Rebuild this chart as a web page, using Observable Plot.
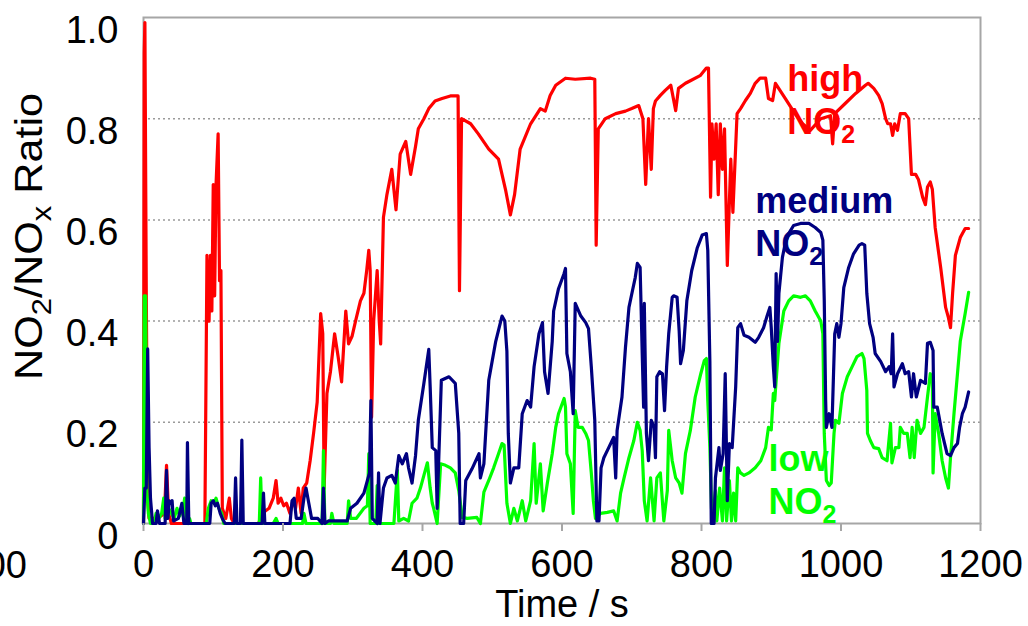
<!DOCTYPE html>
<html>
<head>
<meta charset="utf-8">
<script src="https://cdn.jsdelivr.net/npm/d3@7"></script>
<script src="https://cdn.jsdelivr.net/npm/@observablehq/plot@0.6"></script>
<style>
  html, body { margin: 0; padding: 0; background: white; }
  #chart svg { display: block; }
</style>
</head>
<body>
<div id="chart"></div>
<script>
// ---- data: [time (s), NO2/NOx ratio] ----
const highNO2 = [[0,0.0],[1,0.93],[2,0.99],[4,0.45],[6,0.05],[8,0.01],[20,0.01],[30,0.02],[33,0.115],[36,0.02],[40,0.0],[88,0.0],[91,0.53],[94,0.4],[96,0.53],[98,0.42],[100,0.67],[102,0.45],[104,0.67],[107,0.77],[109,0.48],[111,0.5],[113,0.03],[118,0.01],[123,0.05],[126,0.01],[130,0.0],[165,0.0],[170,0.02],[180,0.03],[186,0.05],[190,0.085],[193,0.04],[197,0.05],[201,0.035],[205,0.04],[210,0.02],[214,0.045],[218,0.03],[222,0.07],[226,0.02],[229,0.07],[234,0.08],[239,0.125],[244,0.18],[249,0.24],[254,0.415],[257,0.375],[259,0.07],[263,0.257],[268,0.30],[274,0.375],[279,0.33],[284,0.28],[290,0.42],[294,0.355],[299,0.37],[304,0.40],[311,0.44],[316,0.455],[320,0.5],[323,0.54],[325,0.50],[327,0.21],[330,0.40],[335,0.50],[338,0.40],[340,0.355],[344,0.605],[349,0.65],[356,0.70],[362,0.62],[368,0.73],[376,0.755],[383,0.69],[390,0.745],[394,0.78],[402,0.80],[409,0.82],[418,0.835],[428,0.84],[440,0.845],[451,0.845],[453,0.46],[456,0.80],[469,0.79],[480,0.77],[495,0.74],[509,0.72],[519,0.66],[526,0.61],[532,0.65],[540,0.74],[555,0.79],[569,0.82],[576,0.815],[583,0.846],[591,0.866],[605,0.88],[619,0.878],[641,0.88],[647,0.878],[649,0.55],[652,0.78],[662,0.80],[677,0.81],[691,0.815],[700,0.82],[710,0.826],[716,0.80],[720,0.67],[724,0.80],[728,0.70],[731,0.82],[734,0.835],[741,0.846],[748,0.856],[756,0.866],[763,0.816],[767,0.86],[777,0.87],[784,0.875],[798,0.885],[807,0.9],[810,0.9],[813,0.645],[815,0.79],[818,0.72],[821,0.79],[824,0.65],[827,0.79],[830,0.70],[833,0.78],[837,0.51],[842,0.72],[845,0.615],[851,0.81],[856,0.82],[863,0.836],[870,0.85],[877,0.87],[884,0.88],[892,0.88],[896,0.84],[902,0.836],[906,0.87],[913,0.855],[920,0.84],[934,0.81],[945,0.79],[956,0.777],[971,0.80],[985,0.806],[988,0.75],[991,0.81],[1006,0.83],[1021,0.85],[1035,0.866],[1039,0.87],[1047,0.86],[1054,0.846],[1059,0.83],[1064,0.80],[1067,0.79],[1071,0.79],[1074,0.767],[1077,0.79],[1081,0.777],[1085,0.81],[1092,0.81],[1097,0.80],[1101,0.69],[1107,0.69],[1111,0.68],[1117,0.645],[1121,0.63],[1124,0.665],[1128,0.675],[1131,0.66],[1135,0.585],[1143,0.505],[1150,0.427],[1154,0.407],[1157,0.387],[1160,0.455],[1164,0.53],[1167,0.545],[1171,0.565],[1178,0.583],[1183,0.583]];

const mediumNO2 = [[0,0.0],[2,0.07],[4,0.07],[6,0.345],[8,0.15],[10,0.05],[13,0.0],[18,0.0],[20,0.025],[23,0.0],[31,0.0],[33,0.105],[35,0.01],[37,0.045],[39,0.04],[41,0.045],[43,0.005],[50,0.01],[55,0.04],[58,0.0],[62,0.0],[63,0.16],[65,0.0],[95,0.0],[97,0.04],[100,0.045],[103,0.035],[106,0.04],[110,0.02],[113,0.01],[117,0.0],[130,0.0],[132,0.09],[134,0.0],[139,0.0],[141,0.165],[143,0.0],[170,0.0],[172,0.06],[174,0.0],[210,0.0],[213,0.045],[216,0.05],[219,0.01],[226,0.01],[230,0.05],[233,0.07],[237,0.04],[241,0.01],[250,0.01],[256,0.0],[258,0.07],[260,0.0],[265,0.005],[285,0.005],[292,0.005],[297,0.03],[306,0.04],[316,0.06],[321,0.085],[324,0.1],[326,0.243],[328,0.01],[335,0.0],[337,0.1],[339,0.0],[344,0.07],[349,0.09],[356,0.095],[361,0.08],[366,0.134],[371,0.118],[377,0.138],[380,0.11],[385,0.08],[390,0.134],[394,0.204],[402,0.277],[409,0.344],[411,0.27],[414,0.15],[419,0.144],[421,0.03],[427,0.283],[438,0.29],[447,0.277],[452,0.178],[454,0.0],[459,0.0],[462,0.085],[471,0.108],[481,0.138],[483,0.09],[488,0.118],[495,0.283],[505,0.36],[514,0.41],[518,0.40],[521,0.34],[523,0.178],[526,0.08],[531,0.11],[538,0.11],[543,0.217],[550,0.243],[555,0.23],[560,0.31],[567,0.375],[572,0.397],[575,0.30],[580,0.257],[586,0.36],[588,0.42],[595,0.464],[603,0.494],[605,0.504],[607,0.336],[612,0.30],[616,0.217],[619,0.435],[627,0.41],[634,0.397],[638,0.385],[642,0.31],[647,0.204],[650,0.005],[653,0.005],[656,0.11],[660,0.13],[667,0.15],[674,0.17],[677,0.09],[679,0.184],[686,0.25],[691,0.348],[696,0.427],[701,0.46],[705,0.486],[708,0.514],[712,0.506],[715,0.336],[717,0.23],[718,0.435],[721,0.178],[724,0.124],[728,0.204],[732,0.19],[734,0.13],[736,0.29],[740,0.30],[744,0.296],[747,0.223],[750,0.31],[753,0.375],[758,0.447],[760,0.45],[765,0.447],[768,0.38],[770,0.316],[774,0.342],[779,0.44],[786,0.5],[794,0.545],[801,0.57],[807,0.573],[809,0.54],[812,0.32],[814,0.0],[818,0.0],[820,0.09],[825,0.15],[827,0.105],[831,0.138],[834,0.296],[837,0.045],[840,0.158],[844,0.15],[849,0.27],[852,0.387],[856,0.395],[861,0.372],[868,0.368],[877,0.358],[882,0.368],[889,0.387],[894,0.41],[898,0.427],[900,0.387],[903,0.31],[905,0.27],[907,0.494],[909,0.36],[911,0.455],[916,0.526],[920,0.553],[925,0.573],[932,0.589],[942,0.593],[954,0.593],[963,0.585],[971,0.575],[974,0.56],[976,0.44],[978,0.243],[979,0.19],[983,0.217],[987,0.19],[991,0.375],[994,0.395],[997,0.368],[1000,0.395],[1004,0.466],[1011,0.506],[1018,0.533],[1026,0.55],[1030,0.553],[1034,0.55],[1037,0.455],[1041,0.395],[1046,0.368],[1049,0.336],[1057,0.32],[1064,0.30],[1069,0.31],[1072,0.296],[1074,0.375],[1076,0.27],[1081,0.296],[1088,0.316],[1092,0.296],[1097,0.30],[1101,0.25],[1104,0.296],[1108,0.25],[1114,0.283],[1121,0.277],[1124,0.356],[1128,0.358],[1132,0.342],[1133,0.23],[1138,0.23],[1145,0.178],[1152,0.138],[1157,0.134],[1162,0.15],[1167,0.158],[1170,0.19],[1174,0.217],[1178,0.23],[1183,0.26]];

const lowNO2 = [[0,0.0],[1,0.45],[3,0.45],[4,0.26],[5,0.06],[7,0.02],[10,0.0],[15,0.0],[18,0.02],[22,0.01],[26,0.02],[29,0.05],[31,0.01],[36,0.03],[40,0.02],[44,0.01],[48,0.03],[52,0.015],[55,0.025],[57,0.03],[59,0.05],[61,0.01],[64,0.0],[66,0.01],[68,0.0],[90,0.0],[93,0.03],[97,0.045],[101,0.04],[104,0.05],[108,0.03],[112,0.02],[115,0.0],[166,0.0],[168,0.09],[170,0.0],[186,0.0],[190,0.01],[193,0.0],[228,0.0],[230,0.02],[233,0.0],[256,0.0],[258,0.144],[260,0.0],[268,0.0],[270,0.02],[273,0.0],[292,0.0],[294,0.045],[297,0.01],[305,0.01],[316,0.03],[321,0.035],[323,0.138],[325,0.0],[333,0.0],[335,0.075],[337,0.0],[359,0.0],[364,0.105],[366,0.005],[373,0.01],[380,0.005],[385,0.04],[392,0.05],[397,0.07],[402,0.095],[407,0.12],[411,0.07],[414,0.04],[416,0.03],[421,0.0],[426,0.118],[433,0.115],[440,0.11],[447,0.1],[452,0.065],[457,0.012],[464,0.01],[478,0.012],[483,0.0],[488,0.062],[495,0.085],[502,0.11],[509,0.138],[514,0.158],[517,0.155],[521,0.04],[526,0.0],[531,0.03],[536,0.005],[543,0.045],[548,0.005],[555,0.045],[560,0.158],[563,0.04],[569,0.118],[573,0.025],[579,0.08],[586,0.138],[591,0.19],[595,0.217],[603,0.247],[605,0.23],[607,0.138],[612,0.118],[616,0.02],[619,0.223],[623,0.19],[629,0.19],[634,0.178],[638,0.164],[642,0.1],[645,0.045],[648,0.01],[655,0.02],[665,0.022],[674,0.025],[679,0.005],[684,0.06],[689,0.09],[696,0.13],[703,0.164],[708,0.2],[712,0.184],[715,0.144],[718,0.045],[722,0.005],[727,0.09],[732,0.005],[736,0.09],[741,0.1],[746,0.005],[751,0.065],[753,0.184],[758,0.124],[763,0.09],[768,0.08],[772,0.06],[777,0.138],[784,0.184],[791,0.25],[799,0.296],[804,0.322],[807,0.326],[809,0.243],[812,0.15],[815,0.0],[820,0.065],[822,0.005],[826,0.07],[830,0.005],[833,0.11],[836,0.005],[840,0.085],[843,0.005],[846,0.06],[849,0.005],[852,0.11],[856,0.1],[861,0.095],[868,0.1],[877,0.11],[885,0.124],[892,0.15],[896,0.19],[900,0.185],[903,0.257],[905,0.243],[906,0.263],[911,0.356],[918,0.42],[925,0.44],[932,0.45],[942,0.447],[949,0.45],[956,0.44],[963,0.42],[971,0.40],[974,0.375],[976,0.178],[979,0.085],[983,0.075],[986,0.08],[990,0.178],[992,0.204],[997,0.198],[1002,0.257],[1009,0.29],[1016,0.31],[1023,0.33],[1030,0.336],[1033,0.326],[1037,0.263],[1038,0.178],[1042,0.164],[1047,0.15],[1054,0.148],[1059,0.13],[1066,0.124],[1071,0.198],[1073,0.12],[1078,0.15],[1083,0.15],[1085,0.19],[1090,0.178],[1095,0.178],[1099,0.13],[1102,0.19],[1105,0.13],[1109,0.204],[1114,0.178],[1119,0.19],[1124,0.25],[1128,0.296],[1131,0.283],[1132,0.1],[1135,0.217],[1140,0.178],[1145,0.124],[1150,0.09],[1154,0.07],[1157,0.13],[1162,0.217],[1167,0.296],[1171,0.36],[1178,0.415],[1183,0.457]];

// ---- ticks, labels ----
const xTicks = [0, 200, 400, 600, 800, 1000, 1200];
const yTicks = [0, 0.2, 0.4, 0.6, 0.8, 1.0];
const gridValues = [0.2, 0.4, 0.6, 0.8];
const xTitle = "Time / s";
const yTitle = "NO2/NOx Ratio";
const strayTickLabel = "-200";

// series annotations (label, time, ratio at text top, colour)
const seriesLabels = ["high\nNO2", "medium\nNO2", "low\nNO2"];
const seriesLabelT = [923, 877, 896];
const seriesLabelV = [0.916, 0.675, 0.165];
const seriesColors = ["#ff0000", "#000080", "#00ff00"];

const annotations = seriesLabels.map((s, i) => ({s, t: seriesLabelT[i], v: seriesLabelV[i], c: seriesColors[i]}));

const gray = "#a6a6a6";
const fmtY = d => d === 0 ? "0" : d.toFixed(1);

const svg = Plot.plot({
  width: 1028,
  height: 626,
  marginLeft: 143,
  marginRight: 48,
  marginTop: 17,
  marginBottom: 103,
  style: {fontFamily: "'Liberation Sans', Arial, sans-serif", fontSize: "38px", background: "white", color: "black"},
  x: {domain: [0, 1200]},
  y: {domain: [0, 1]},
  marks: [
    Plot.gridY(gridValues, {stroke: "#9a9a9a", strokeOpacity: 1, strokeWidth: 1.5, strokeDasharray: "2,3"}),
    Plot.frame({stroke: gray, strokeWidth: 2}),
    Plot.text(annotations, {x: "t", y: "v", text: "s", fill: "c", textAnchor: "start", lineAnchor: "top", lineHeight: 1.2, fontSize: 36, fontWeight: "bold"}),
    Plot.line(highNO2, {x: d => d[0], y: d => d[1], stroke: seriesColors[0], strokeWidth: 3.2}),
    Plot.line(lowNO2, {x: d => d[0], y: d => d[1], stroke: seriesColors[2], strokeWidth: 3.2}),
    Plot.line(mediumNO2, {x: d => d[0], y: d => d[1], stroke: seriesColors[1], strokeWidth: 3.2}),
    Plot.axisX({ticks: xTicks, tickFormat: d => String(d), tickSize: 8, tickPadding: 19, stroke: gray, strokeWidth: 2, fill: "black", fontSize: 38, label: null}),
    Plot.axisY({ticks: yTicks, tickFormat: fmtY, tickSize: 0, tickPadding: 25, dy: 13, fill: "black", fontSize: 38, label: null}),
    Plot.text([strayTickLabel], {x: -200, frameAnchor: "bottom", text: d => d, textAnchor: "end", lineAnchor: "top", dx: 23, dy: 28, fontSize: 38, fill: "black"}),
    Plot.text([xTitle], {frameAnchor: "bottom", text: d => d, textAnchor: "middle", lineAnchor: "middle", dy: 81, fontSize: 38, fill: "black"}),
    Plot.text([yTitle], {frameAnchor: "left", text: d => d, rotate: -90, textAnchor: "middle", lineAnchor: "middle", dx: -114, dy: -34, fontSize: 39, fill: "black"})
  ]
});

// render NO2 / NOx with subscripts
function subscriptify(el, subSize, shift) {
  const s = el.textContent;
  const parts = s.split(/(?<=NO)([2x])/);
  while (el.firstChild) el.removeChild(el.firstChild);
  let down = false;
  parts.forEach((p, i) => {
    if (!p) return;
    const t = document.createElementNS("http://www.w3.org/2000/svg", "tspan");
    t.textContent = p;
    if (i % 2 === 1) { t.setAttribute("font-size", subSize); t.setAttribute("dy", shift); down = true; }
    else if (down) { t.setAttribute("dy", -shift); down = false; }
    el.appendChild(t);
  });
}
d3.select(svg).selectAll("text, tspan").each(function() {
  if (this.querySelector("tspan")) return;
  if (!/NO[2x]/.test(this.textContent)) return;
  const isTitle = this.textContent.indexOf("Ratio") >= 0;
  subscriptify(this, isTitle ? 28 : 25, 9);
  if (isTitle) {
    // the reference title is drawn somewhat longer than its glyph height suggests
    this.setAttribute("textLength", 287);
    this.setAttribute("lengthAdjust", "spacingAndGlyphs");
  }
});

document.getElementById("chart").appendChild(svg);
</script>
</body>
</html>
